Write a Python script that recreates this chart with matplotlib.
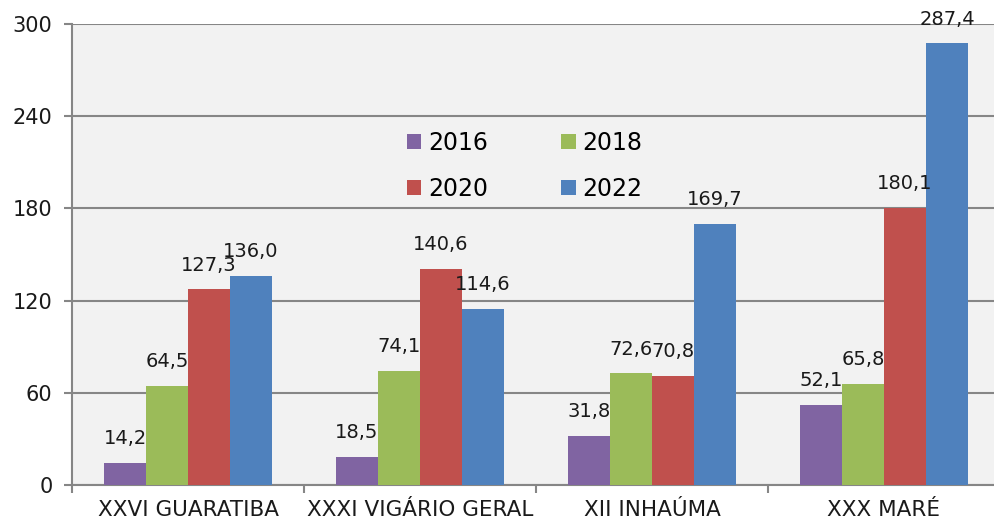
import matplotlib
matplotlib.use("Agg")
import matplotlib.pyplot as plt
import numpy as np

categories = ["XXVI GUARATIBA", "XXXI VIGÁRIO GERAL", "XII INHAÚMA", "XXX MARÉ"]
series_names = ["2016", "2018", "2020", "2022"]
v2016 = [14.2, 18.5, 31.8, 52.1]
v2018 = [64.5, 74.1, 72.6, 65.8]
v2020 = [127.3, 140.6, 70.8, 180.1]
v2022 = [136.0, 114.6, 169.7, 287.4]
yticks = [0, 60, 120, 180, 240, 300]

series = [v2016, v2018, v2020, v2022]
colors = ["#8064A2", "#9BBB59", "#C0504D", "#4F81BD"]

plt.rcParams['font.family'] = ['DejaVu Sans']
W, H = 994, 522
fig = plt.figure(figsize=(W / 100, H / 100), dpi=100)
left, right, top, bottom = 72, 1000, 24, 485
ax = fig.add_axes([left / W, (H - bottom) / H, (right - left) / W, (bottom - top) / H])
ax.set_facecolor("#F2F2F2")

x = np.arange(len(categories))
bw = 0.181
handles = []
for i, (vals, c, name) in enumerate(zip(series, colors, series_names)):
    pos = x + (i - 1.5) * bw
    b = ax.bar(pos, vals, width=bw, color=c, label=name, zorder=3)
    handles.append(b)
    for px, v in zip(pos, vals):
        ax.annotate(f"{v:.1f}".replace(".", ","), (px, v), xytext=(0, 17.5),
                    textcoords="offset points", ha="center", va="center",
                    fontsize=14, color="#1a1a1a", zorder=4, annotation_clip=False)

ax.set_xlim(-0.5, 3.5)
ax.set_ylim(0, 300)
ax.set_yticks(yticks)
ax.set_yticklabels([str(t) for t in yticks], fontsize=15, color="#1a1a1a")
ax.yaxis.grid(True, color="#868686", linewidth=1.5, zorder=1)
ax.set_axisbelow(True)

ax.set_xticks(x)
ax.set_xticklabels(categories, fontsize=15.5, color="#1a1a1a")
ax.tick_params(axis="x", which="major", length=0, pad=11)
ax.set_xticks(np.arange(-0.5, 3.6, 1.0), minor=True)
ax.tick_params(axis="x", which="minor", length=6, width=1.5, color="#868686", direction="out")
ax.tick_params(axis="y", length=6, width=1.5, color="#868686", pad=8)

for s in ["top", "right"]:
    ax.spines[s].set_visible(False)
for s in ["left", "bottom"]:
    ax.spines[s].set_color("#868686")
    ax.spines[s].set_linewidth(1.5)

order = [0, 2, 1, 3]
leg = ax.legend([handles[k] for k in order], [series_names[k] for k in order],
                ncol=2, frameon=False, fontsize=17, loc="upper left",
                bbox_to_anchor=(0.338, 0.815), handlelength=0.6, handleheight=0.6,
                handletextpad=0.3, columnspacing=3.1, labelspacing=0.95)

fig.savefig("out.png", dpi=100, facecolor="white")
